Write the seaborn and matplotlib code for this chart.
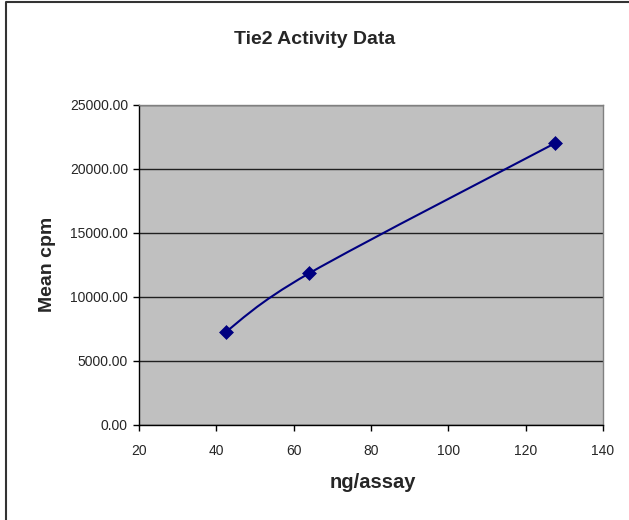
import matplotlib.pyplot as plt
import seaborn as sns
import pandas as pd
from matplotlib.path import Path
from matplotlib.patches import PathPatch
from matplotlib.lines import Line2D

# data
ng_per_assay = [42.5, 64.0, 127.5]
mean_cpm = [7300.0, 11850.0, 22000.0]
x_ticks = [20, 40, 60, 80, 100, 120, 140]
y_ticks = [0, 5000, 10000, 15000, 20000, 25000]

df = pd.DataFrame({"ng/assay": ng_per_assay, "Mean cpm": mean_cpm})

sns.set_style("white")
plt.rcParams["font.family"] = ["Liberation Sans", "DejaVu Sans"]

fig = plt.figure(figsize=(6.29, 5.2), dpi=100)
ax = fig.add_axes([139 / 629, 1 - 425 / 520, 464 / 629, 320 / 520])
ax.set_facecolor("#c0c0c0")

# smoothed line, excel style (catmull-rom drawn as bezier segments)
pts = list(zip(ng_per_assay, mean_cpm))
verts = [pts[0]]
codes = [Path.MOVETO]
for i in range(len(pts) - 1):
    p0 = pts[i - 1] if i > 0 else pts[i]
    p1 = pts[i]
    p2 = pts[i + 1]
    p3 = pts[i + 2] if i + 2 < len(pts) else p2
    c1 = (p1[0] + (p2[0] - p0[0]) / 6, p1[1] + (p2[1] - p0[1]) / 6)
    c2 = (p2[0] - (p3[0] - p1[0]) / 6, p2[1] - (p3[1] - p1[1]) / 6)
    verts += [c1, c2, p2]
    codes += [Path.CURVE4] * 3
ax.add_patch(PathPatch(Path(verts, codes), facecolor="none",
                       edgecolor="#000080", lw=1.5, zorder=3))

sns.scatterplot(data=df, x="ng/assay", y="Mean cpm", marker="D", s=50,
                color="#000080", edgecolor="#000080", linewidth=0.5,
                ax=ax, zorder=4, legend=False)

ax.set_xlim(20, 140)
ax.set_ylim(0, 25000)
ax.set_xticks(x_ticks)
ax.set_yticks(y_ticks)
ax.set_yticklabels([f"{v:.2f}" for v in y_ticks])
ax.yaxis.grid(True, color="#202020", lw=1)
ax.xaxis.grid(False)
ax.set_axisbelow(True)

for side in ["left", "bottom"]:
    ax.spines[side].set_color("black")
    ax.spines[side].set_linewidth(1)
for side in ["top", "right"]:
    ax.spines[side].set_color("#808080")
    ax.spines[side].set_linewidth(1)

ax.tick_params(axis="y", direction="out", length=4, width=1, color="black",
               labelsize=10, pad=4, left=True)
ax.tick_params(axis="x", direction="out", length=4, width=1, color="black",
               labelsize=10, pad=10, bottom=True)

ax.set_xlabel("")
ax.set_ylabel("")
fig.text(373 / 629, 1 - 483 / 520, "ng/assay", ha="center", va="center",
         fontsize=14.5, fontweight="bold")
fig.text(47 / 629, 1 - 264 / 520, "Mean cpm", ha="center", va="center",
         rotation=90, fontsize=14, fontweight="bold")
fig.text(315 / 629, 1 - 40 / 520, "Tie2 Activity Data", ha="center",
         va="center", fontsize=14, fontweight="bold")

# outer chart border (only left and top edges show in the picture)
fig.add_artist(Line2D([6 / 629, 6 / 629, 1], [0, 1 - 2 / 520, 1 - 2 / 520],
                      transform=fig.transFigure, color="#333333", lw=1.5))

fig.savefig("out.png", dpi=100, facecolor="white")
